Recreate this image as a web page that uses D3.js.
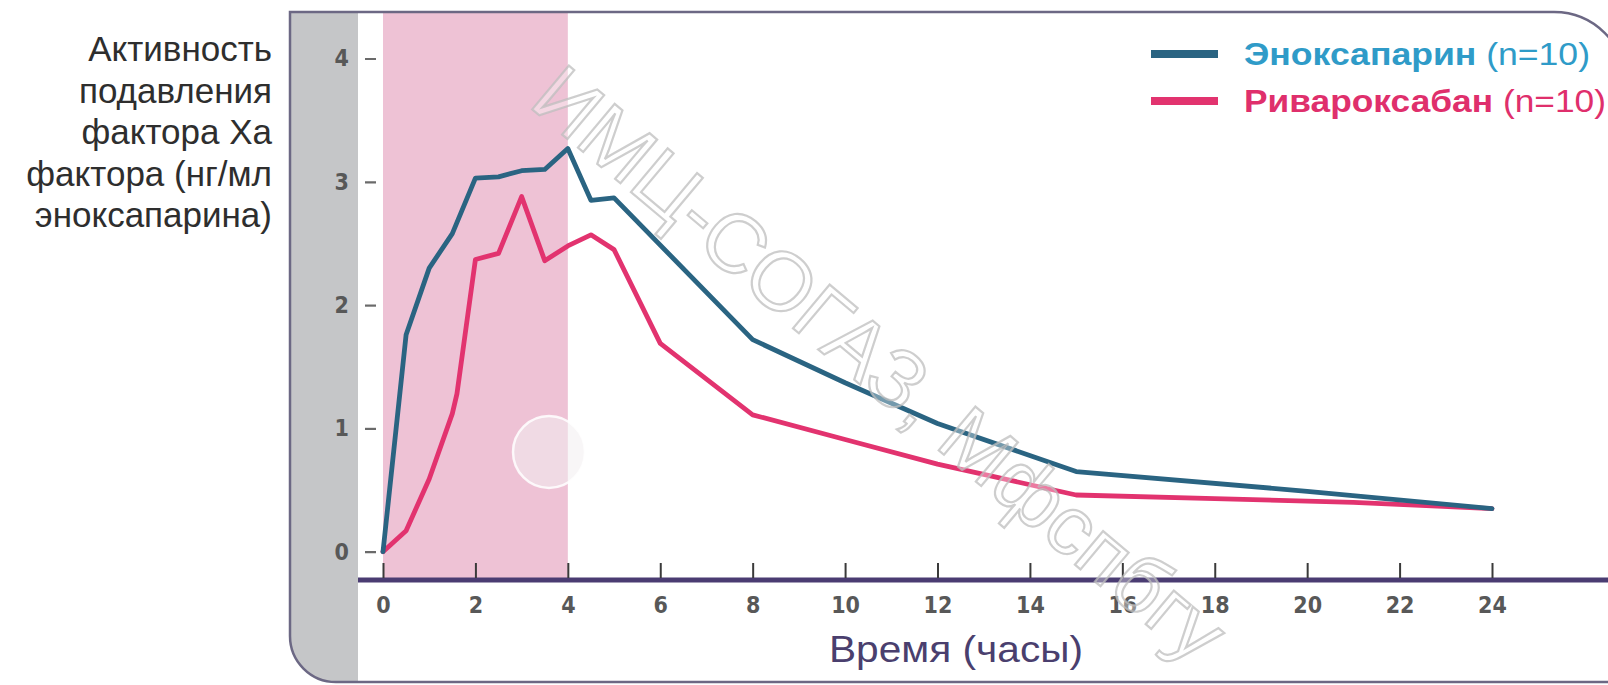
<!DOCTYPE html>
<html>
<head>
<meta charset="utf-8">
<script src="https://cdn.jsdelivr.net/npm/d3@7/dist/d3.min.js"></script>
<style>
  html, body { margin: 0; padding: 0; background: #ffffff; }
  svg { display: block; }
</style>
</head>
<body>
<svg id="chart" width="1608" height="685"></svg>
<script>
// Anti-Xa activity over time after a single dose
const hoursEnox = [0, 0.5, 1, 1.5, 2, 2.5, 3, 3.5, 4, 4.5, 5, 8, 10, 12, 15, 20, 24];
const valuesEnox = [0, 1.76, 2.3, 2.58, 3.03, 3.04, 3.09, 3.1, 3.27, 2.85, 2.87, 1.72, 1.37, 1.04, 0.65, 0.49, 0.35];

const hoursRiva = [0, 0.5, 1, 1.5, 1.6, 2, 2.5, 3, 3.5, 4, 4.5, 5, 6, 8, 10, 12, 15, 18, 21, 24];
const valuesRiva = [0, 0.17, 0.59, 1.12, 1.28, 2.37, 2.42, 2.88, 2.36, 2.48, 2.57, 2.45, 1.69, 1.11, 0.91, 0.71, 0.46, 0.43, 0.4, 0.35];

const xTicks = [0, 2, 4, 6, 8, 10, 12, 14, 16, 18, 20, 22, 24];
const yTicks = [0, 1, 2, 3, 4];
const shadedHours = [0, 4];

const seriesNames = ["Эноксапарин", "Ривароксабан"];
const seriesNotes = ["(n=10)", "(n=10)"];
const yTitleLines = ["Активность", "подавления", "фактора Ха", "фактора (нг/мл", "эноксапарина)"];
const xTitle = "Время (часы)";
const stampText = "ИМЦ-СОГАЗ, Мфспбгу";

const colors = {
  enoxLine: "#2a6482",
  rivaLine: "#e2336f",
  enoxText: "#2f9bc8",
  rivaText: "#df2f6c",
  band: "#eec2d5",
  strip: "#c5c6c8",
  frame: "#6c6884",
  axis: "#4a3c72",
  tick: "#585858",
  title: "#2e2e2e",
  xTitle: "#4a3f6e"
};

const svg = d3.select("#chart");

const frame = { left: 290, top: 12, right: 1626, bottom: 682 };
const axisY = 580;

const x = d3.scaleLinear().domain([0, 24]).range([383, 1492]);
const y = d3.scaleLinear().domain([0, 4]).range([551.7, 58.5]);

// Panel outline: square top-left, rounded top-right and bottom-left
function panelPath(f, rTR, rBL) {
  return [
    `M${f.left},${f.top}`,
    `L${f.right - rTR},${f.top}`,
    `A${rTR},${rTR} 0 0 1 ${f.right},${f.top + rTR}`,
    `L${f.right},${f.bottom}`,
    `L${f.left + rBL},${f.bottom}`,
    `A${rBL},${rBL} 0 0 1 ${f.left},${f.bottom - rBL}`,
    "Z"
  ].join(" ");
}
const pPath = panelPath(frame, 72, 46);

svg.append("defs").append("clipPath").attr("id", "panelClip")
  .append("path").attr("d", pPath);

const panel = svg.append("g").attr("clip-path", "url(#panelClip)");
panel.append("path").attr("d", pPath).attr("fill", "#ffffff");

// Grey strip on the left of the panel
panel.append("rect")
  .attr("x", frame.left).attr("y", frame.top)
  .attr("width", 358 - frame.left).attr("height", frame.bottom - frame.top)
  .attr("fill", colors.strip);

// Dosing window shading
panel.append("rect")
  .attr("x", x(shadedHours[0])).attr("y", frame.top)
  .attr("width", x(shadedHours[1]) - x(shadedHours[0]))
  .attr("height", axisY - frame.top)
  .attr("fill", colors.band);

// Glossy disc
panel.append("circle")
  .attr("cx", 549).attr("cy", 452).attr("r", 36)
  .attr("fill", "#f3eef1").attr("fill-opacity", 0.55)
  .attr("stroke", "#ffffff").attr("stroke-width", 2.5).attr("stroke-opacity", 0.85);

// Series lines
const line = d3.line().x(d => x(d[0])).y(d => y(d[1]));
const enoxData = hoursEnox.map((h, i) => [h, valuesEnox[i]]);
const rivaData = hoursRiva.map((h, i) => [h, valuesRiva[i]]);

panel.append("path").datum(rivaData)
  .attr("d", line).attr("fill", "none")
  .attr("stroke", colors.rivaLine).attr("stroke-width", 4.8)
  .attr("stroke-linejoin", "round").attr("stroke-linecap", "round");

panel.append("path").datum(enoxData)
  .attr("d", line).attr("fill", "none")
  .attr("stroke", colors.enoxLine).attr("stroke-width", 4.8)
  .attr("stroke-linejoin", "round").attr("stroke-linecap", "round");

// Y axis: short dashes with labels
const yAxis = d3.axisLeft(y).tickValues(yTicks).tickSize(11).tickPadding(16).tickFormat(d3.format("d"));
const gy = panel.append("g").attr("transform", "translate(376,0)").call(yAxis);
gy.select(".domain").remove();
gy.selectAll(".tick line").attr("stroke", "#6a6a6a").attr("stroke-width", 2.2);
gy.selectAll(".tick text")
  .attr("fill", colors.tick)
  .style("font-family", "'Liberation Sans Narrow', 'DejaVu Sans Condensed', sans-serif")
  .style("font-weight", "bold").style("font-size", "23px");

// X axis: thick baseline with upward ticks
panel.append("line")
  .attr("x1", 358).attr("x2", frame.right)
  .attr("y1", axisY).attr("y2", axisY)
  .attr("stroke", colors.axis).attr("stroke-width", 5);

const xAxis = d3.axisBottom(x).tickValues(xTicks).tickSize(0).tickPadding(17).tickFormat(d3.format("d"));
const gx = panel.append("g").attr("transform", `translate(0,${axisY})`).call(xAxis);
gx.select(".domain").remove();
gx.selectAll(".tick").append("line")
  .attr("y1", -2).attr("y2", -17)
  .attr("stroke", "#3a3a3a").attr("stroke-width", 2);
gx.selectAll(".tick text")
  .attr("fill", colors.tick)
  .style("font-family", "'Liberation Sans Narrow', 'DejaVu Sans Condensed', sans-serif")
  .style("font-weight", "bold").style("font-size", "23px");

// X axis title
panel.append("text")
  .attr("x", 956).attr("y", 662)
  .attr("text-anchor", "middle")
  .attr("fill", colors.xTitle)
  .attr("textLength", 254).attr("lengthAdjust", "spacingAndGlyphs")
  .style("font-family", "'Liberation Sans', Arial, sans-serif")
  .style("font-size", "36px")
  .text(xTitle);

// Legend
const legend = panel.append("g");
const legendRows = [
  { name: seriesNames[0], note: seriesNotes[0], line: colors.enoxLine, text: colors.enoxText, cy: 54, len: 346 },
  { name: seriesNames[1], note: seriesNotes[1], line: colors.rivaLine, text: colors.rivaText, cy: 101, len: 362 }
];
legendRows.forEach(r => {
  legend.append("line")
    .attr("x1", 1151).attr("x2", 1218).attr("y1", r.cy).attr("y2", r.cy)
    .attr("stroke", r.line).attr("stroke-width", 8);
  const t = legend.append("text")
    .attr("x", 1244).attr("y", r.cy)
    .attr("dominant-baseline", "central")
    .attr("fill", r.text)
    .attr("textLength", r.len).attr("lengthAdjust", "spacingAndGlyphs")
    .style("font-family", "'Liberation Sans', Arial, sans-serif")
    .style("font-size", "32px");
  t.append("tspan").style("font-weight", "bold").text(r.name + " ");
  t.append("tspan").text(r.note);
});

// Panel border
svg.append("path").attr("d", pPath)
  .attr("fill", "none").attr("stroke", colors.frame).attr("stroke-width", 2.5);

// Diagonal stamp across the plot
svg.append("text")
  .attr("transform", "translate(880,364) rotate(40)")
  .attr("text-anchor", "middle")
  .attr("dominant-baseline", "central")
  .attr("fill", "#ffffff").attr("fill-opacity", 0.35)
  .attr("stroke", "#bdbdbd").attr("stroke-width", 2.2).attr("stroke-opacity", 0.75)
  .style("font-family", "'Liberation Sans', Arial, sans-serif")
  .style("font-size", "83px")
  .text(stampText);

// Y axis title, right-aligned to the left of the panel
const yTitle = svg.append("text")
  .attr("text-anchor", "end")
  .attr("fill", colors.title)
  .style("font-family", "'Liberation Sans', Arial, sans-serif")
  .style("font-size", "35px");
yTitleLines.forEach((s, i) => {
  yTitle.append("tspan").attr("x", 272).attr("y", 61 + i * 41.5).text(s);
});
</script>
</body>
</html>
